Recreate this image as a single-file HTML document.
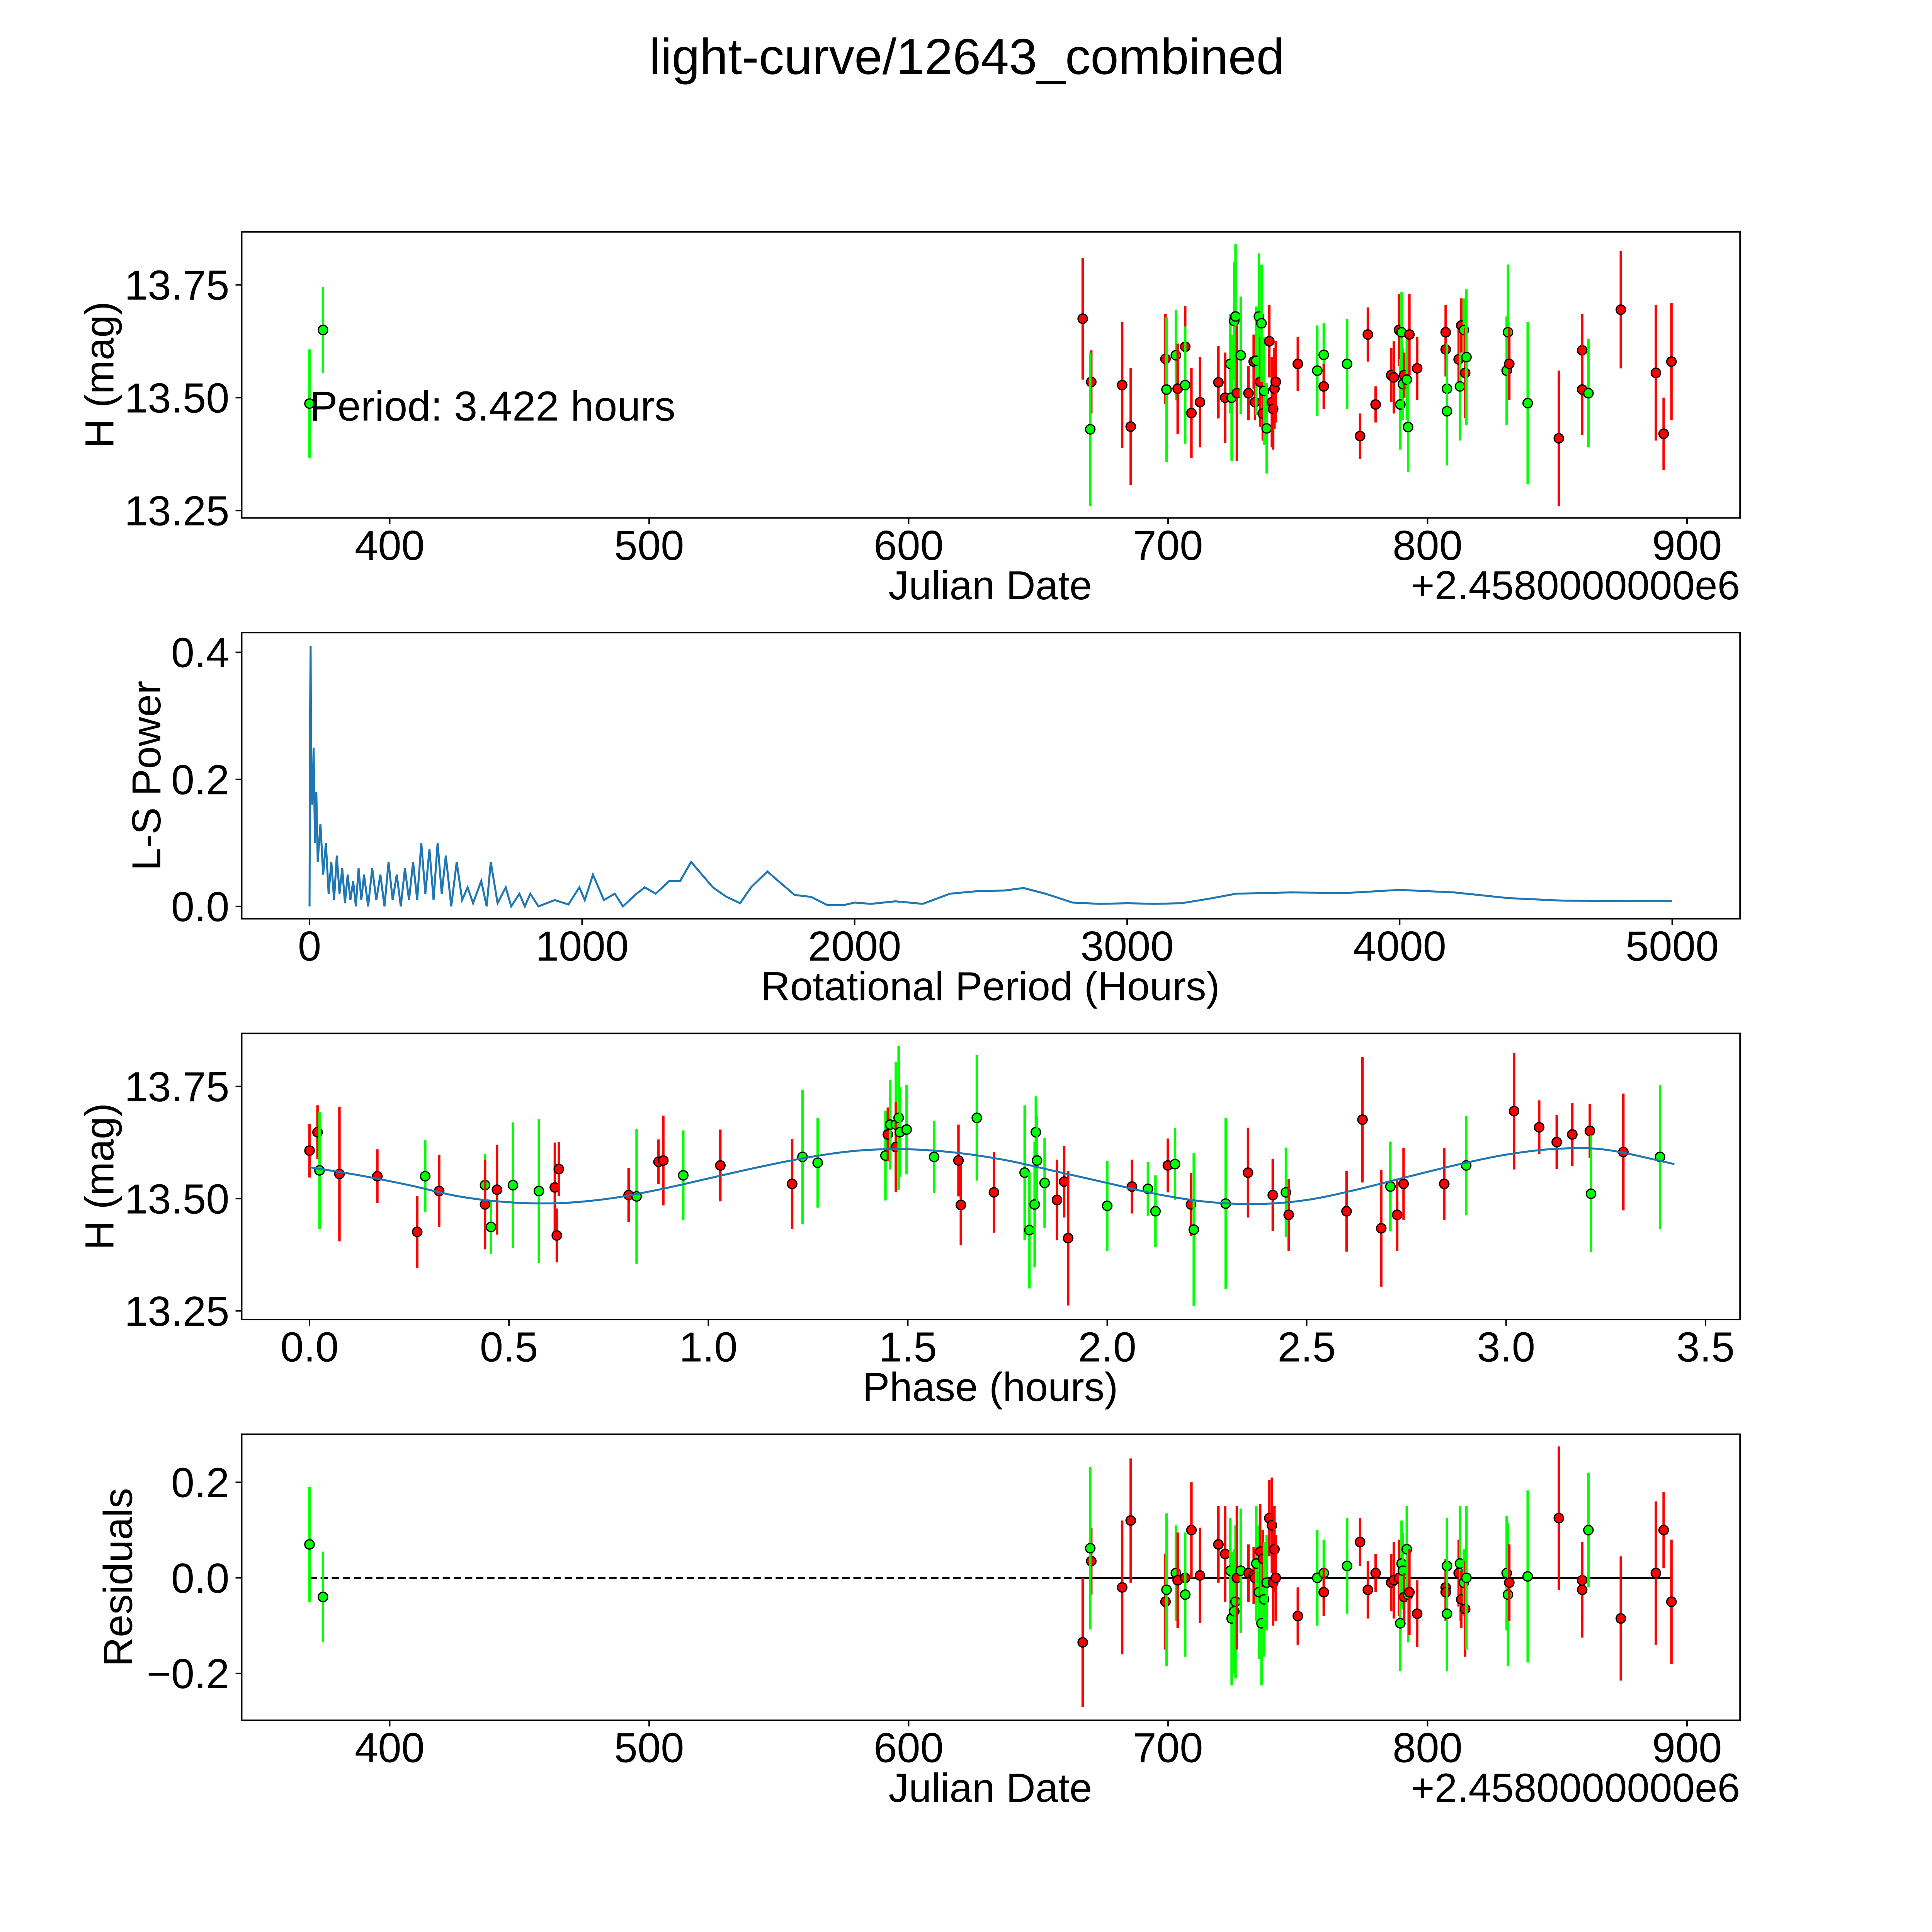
<!DOCTYPE html>
<html><head><meta charset="utf-8"><style>
html,body{margin:0;padding:0;background:#fff;overflow:hidden;}
svg{display:block;font-family:"Liberation Sans","DejaVu Sans",sans-serif;}
</style></head><body>
<svg id="fig" width="5400" height="5400" viewBox="0 0 1692 1692" xmlns="http://www.w3.org/2000/svg">
<rect x="0" y="0" width="1692" height="1692" fill="#fff"/>
<text x="784" y="60" font-size="41" text-anchor="middle">light-curve/12643_combined</text>
</svg>
<script>
// ---------- Panel 1 data: date offset, H mag, error, color ----------
const obsDates=[369.1,374.3,667.1,670.4,670.0,682.3,685.6,699.0,699.4,703.0,703.7,706.6,706.6,709.0,712.3,719.4,722.0,724,724.5,725.5,726,726.5,728,731,733,733.5,734,735,735.5,736,736.5,737,738,739,740,740.5,741,741.5,750,757.5,760,760,769,774,777,780,786,787,789,789.5,790,790.5,791,792,792.5,793,796,807,807,807.5,807.5,812,812.5,813,814,814.5,815,830.5,831,831.5,838.6,850.6,859.6,859.6,862,874.5,888,891,894];
const obsMags=[13.487,13.65,13.675,13.535,13.43,13.528,13.436,13.586,13.518,13.594,13.52,13.613,13.528,13.466,13.49,13.534,13.50,13.575,13.50,13.67,13.68,13.51,13.594,13.51,13.58,13.49,13.582,13.68,13.535,13.665,13.465,13.515,13.432,13.625,13.49,13.475,13.52,13.535,13.575,13.56,13.595,13.525,13.575,13.415,13.64,13.485,13.55,13.545,13.65,13.485,13.645,13.53,13.55,13.54,13.435,13.64,13.565,13.607,13.645,13.52,13.47,13.585,13.525,13.66,13.65,13.555,13.59,13.56,13.645,13.575,13.488,13.41,13.605,13.518,13.51,13.695,13.555,13.42,13.58];
const obsErrs=[0.12,0.095,0.135,0.07,0.17,0.14,0.13,0.10,0.16,0.10,0.10,0.09,0.13,0.10,0.10,0.08,0.10,0.11,0.14,0.13,0.16,0.15,0.13,0.06,0.06,0.04,0.12,0.14,0.10,0.13,0.06,0.12,0.10,0.08,0.10,0.09,0.09,0.09,0.06,0.10,0.07,0.05,0.10,0.05,0.06,0.04,0.06,0.08,0.08,0.10,0.09,0.08,0.05,0.09,0.10,0.09,0.07,0.06,0.06,0.10,0.12,0.07,0.12,0.06,0.07,0.10,0.15,0.12,0.15,0.08,0.18,0.15,0.08,0.10,0.12,0.13,0.15,0.08,0.13];
const obsColors=["g","g","r","r","g","r","r","r","g","g","r","r","g","r","r","r","r","g","g","g","g","r","g","r","r","r","g","g","r","g","r","g","g","r","r","r","r","r","r","g","g","r","g","r","r","r","r","r","r","g","g","g","r","g","g","r","r","r","r","g","g","r","g","r","g","r","g","g","g","r","g","r","r","r","g","r","r","r","r"];
const residuals=[0.07,-0.04,-0.135,0.035,0.062,-0.02,0.12,-0.05,-0.025,0.01,-0.005,0.0,-0.035,0.1,0.005,0.07,0.05,0.015,-0.085,-0.07,-0.05,0.0,0.015,0.01,0.005,0.0,0.03,-0.03,0.055,-0.095,0.04,-0.045,-0.01,0.125,0.11,-0.01,0.06,0.0,-0.08,0.0,0.01,-0.03,0.025,0.075,-0.025,0.01,-0.01,-0.005,0.0,-0.095,0.03,0.015,-0.04,0.06,-0.035,-0.03,-0.075,-0.02,-0.03,0.025,-0.075,0.01,0.03,-0.045,-0.01,-0.065,0.0,0.01,-0.035,-0.01,0.003,0.125,-0.005,-0.025,0.1,-0.085,0.01,0.1,-0.05];
const julianTicks=[400,500,600,700,800,900];
const hmagTicks=[13.25,13.50,13.75];
const residTicks=[-0.2,0.0,0.2];
// ---------- Periodogram ----------
const lsPeriods=[0,2,4,6,10,15,20,25,30,40,50,60,70,80,90,100,110,120,130,140,150,160,170,180,190,200,215,230,245,260,275,290,305,320,335,350,365,380,395,410,425,440,455,470,485,500,520,540,560,580,600,630,650,665,690,720,740,770,790,810,840,900,950,990,1010,1040,1080,1120,1150,1200,1230,1270,1320,1360,1400,1440,1480,1530,1580,1620,1680,1720,1780,1840,1900,1960,2000,2060,2150,2250,2350,2450,2550,2620,2700,2800,2900,3000,3100,3200,3300,3400,3600,3800,4000,4200,4400,4600,5000];
const lsPower=[0,0.3,0.41,0.2,0.16,0.25,0.1,0.18,0.07,0.13,0.05,0.1,0.02,0.07,0.01,0.08,0.02,0.06,0.005,0.05,0.01,0.04,0.0,0.06,0.01,0.05,0.0,0.06,0.01,0.05,0.0,0.07,0.01,0.05,0.0,0.06,0.01,0.07,0.01,0.1,0.02,0.09,0.01,0.1,0.02,0.08,0.0,0.07,0.01,0.03,0.005,0.04,0.0,0.07,0.005,0.03,0.0,0.02,0.0,0.02,0.0,0.01,0.003,0.03,0.01,0.05,0.01,0.02,0.0,0.02,0.03,0.02,0.04,0.04,0.07,0.05,0.03,0.015,0.005,0.03,0.055,0.04,0.018,0.015,0.002,0.002,0.006,0.004,0.008,0.004,0.02,0.024,0.025,0.029,0.02,0.006,0.004,0.005,0.004,0.005,0.012,0.02,0.022,0.021,0.026,0.022,0.013,0.009,0.008];
const periodTicks=[0,1000,2000,3000,4000,5000];
const powerTicks=[0.0,0.2,0.4];
// ---------- Phase-folded ----------
const phaseVals=[0.0,0.02,0.025,0.075,0.17,0.27,0.29,0.325,0.44,0.44,0.455,0.47,0.51,0.575,0.615,0.62,0.625,0.8,0.82,0.875,0.887,0.937,1.03,1.21,1.236,1.274,1.444,1.45,1.456,1.47,1.47,1.477,1.48,1.497,1.566,1.627,1.633,1.673,1.716,1.793,1.805,1.818,1.821,1.824,1.843,1.874,1.892,1.902,2.0,2.062,2.102,2.121,2.152,2.17,2.21,2.217,2.297,2.353,2.415,2.448,2.455,2.6,2.64,2.687,2.71,2.727,2.743,2.845,2.9,3.02,3.083,3.127,3.166,3.21,3.213,3.294,3.386];
const phaseMags=[13.607,13.648,13.563,13.555,13.55,13.426,13.55,13.517,13.53,13.487,13.437,13.52,13.53,13.517,13.525,13.418,13.566,13.508,13.505,13.582,13.585,13.552,13.574,13.533,13.593,13.58,13.596,13.643,13.665,13.665,13.615,13.68,13.648,13.654,13.593,13.585,13.486,13.68,13.514,13.558,13.43,13.487,13.648,13.585,13.535,13.497,13.538,13.412,13.484,13.527,13.522,13.472,13.574,13.577,13.487,13.431,13.489,13.558,13.508,13.514,13.464,13.472,13.676,13.434,13.527,13.464,13.533,13.533,13.574,13.695,13.659,13.626,13.643,13.651,13.511,13.604,13.593];
const phaseColors=["r","r","g","r","r","r","g","r","g","r","g","r","g","g","r","r","r","r","g","r","r","g","r","r","g","g","g","r","g","g","r","g","g","g","g","r","r","g","r","g","g","g","g","g","g","r","r","r","g","r","g","g","r","g","r","g","g","r","r","g","r","r","r","r","g","r","r","r","g","r","r","r","r","r","g","r","g"];
const phaseErrs=[0.06,0.06,0.13,0.15,0.06,0.08,0.08,0.08,0.07,0.1,0.06,0.1,0.14,0.16,0.1,0.06,0.06,0.06,0.15,0.05,0.1,0.1,0.08,0.1,0.15,0.1,0.1,0.06,0.1,0.14,0.1,0.16,0.1,0.1,0.08,0.08,0.09,0.14,0.09,0.15,0.13,0.14,0.08,0.1,0.1,0.09,0.08,0.15,0.1,0.06,0.06,0.08,0.06,0.08,0.07,0.17,0.19,0.1,0.08,0.1,0.08,0.09,0.14,0.13,0.1,0.08,0.08,0.08,0.11,0.13,0.06,0.06,0.07,0.06,0.13,0.13,0.16];
const modelPhase=[0,0.125,0.25,0.375,0.5,0.625,0.75,0.875,1.0,1.125,1.25,1.375,1.5,1.625,1.75,1.875,2.0,2.125,2.25,2.375,2.5,2.625,2.75,2.875,3.0,3.125,3.25,3.422];
const modelMag=[13.57,13.552,13.53,13.505,13.492,13.49,13.5,13.52,13.545,13.57,13.592,13.607,13.61,13.602,13.585,13.56,13.535,13.51,13.493,13.488,13.497,13.52,13.548,13.575,13.598,13.611,13.609,13.577];
const phaseTicks=[0.0,0.5,1.0,1.5,2.0,2.5,3.0,3.5];

const NS="http://www.w3.org/2000/svg";
const svg=document.getElementById('fig');
function mk(tag,attrs,parent){const e=document.createElementNS(NS,tag);for(const k in attrs)e.setAttribute(k,attrs[k]);(parent||svg).appendChild(e);return e;}
const COL={r:"#ff0000",g:"#00ff00"};
function lin(d0,d1,p0,p1){return v=>p0+(v-d0)*(p1-p0)/(d1-d0);}
const AX={l:196,r:1411};
const TF=34, LF=33;

function frame(top,bot,name){
  const g=mk('g',{});
  
  
  const r=mk('rect',{x:AX.l,y:top,width:AX.r-AX.l,height:bot-top,fill:'none',stroke:'#000','stroke-width':1.2},g);
  
  
  return g;
}
function xticks(g,ticks,sx,bot,fmt){
  ticks.forEach(t=>{const x=sx(t);
    const l=mk('line',{x1:x,x2:x,y1:bot,y2:bot+5,stroke:'#000','stroke-width':1.2},g);
    
    
    const tx=mk('text',{x:x,y:bot+34,'font-size':TF,'text-anchor':'middle'},g);
    tx.textContent=fmt(t);
    
    
  });
}
function yticks(g,ticks,sy,fmt){
  ticks.forEach(t=>{const y=sy(t);
    const l=mk('line',{x1:AX.l-5,x2:AX.l,y1:y,y2:y,stroke:'#000','stroke-width':1.2},g);
    
    
    const tx=mk('text',{x:AX.l-10,y:y+12,'font-size':TF,'text-anchor':'end'},g);
    tx.textContent=fmt(t);
    
    
  });
}
function label(g,txt,x,y,rot,name,anchor){
  const t=mk('text',{x:x,y:y,'font-size':LF,'text-anchor':anchor||'middle'},g);
  if(rot)t.setAttribute('transform','rotate(-90 '+x+' '+y+')');
  t.textContent=txt;
  
  
}
function point(g,x,y,ey0,ey1,c,name){
  const l=mk('line',{x1:x,x2:x,y1:ey0,y2:ey1,stroke:COL[c],'stroke-width':2},g);
  
  
  const p=mk('circle',{cx:x,cy:y,r:3.8,fill:COL[c],stroke:'#000','stroke-width':1},g);
  
  
}
const f2=v=>v.toFixed(2), f1=v=>v.toFixed(1), f0=v=>String(v);
const fr=v=>(v<0?'\u2212':'')+Math.abs(v).toFixed(1);

// Panel 1
(function(){
  const top=188,bot=420;
  const g=frame(top,bot,'light-curve-panel');
  const sx=lin(400,900,316,1368), sy=lin(13.25,13.75,414,231);
  xticks(g,julianTicks,sx,bot,f0); yticks(g,hmagTicks,sy,f2);
  obsDates.forEach((d,i)=>point(g,sx(d),sy(obsMags[i]),sy(obsMags[i]-obsErrs[i]),sy(obsMags[i]+obsErrs[i]),obsColors[i],'observation-point'));
  const pt=mk('text',{x:251,y:341,'font-size':34},g);
  pt.textContent='Period: 3.422 hours';
  
  
  label(g,'H (mag)',92,304,true,'y-axis-title');
  label(g,'Julian Date',803,486,false,'x-axis-title');
  label(g,'+2.4580000000e6',1411,486,false,'x-axis-offset','end');
})();
// Panel 2
(function(){
  const top=513,bot=745;
  const g=frame(top,bot,'periodogram-panel');
  const sx=lin(0,5000,251,1356), sy=lin(0,0.4,735,529);
  xticks(g,periodTicks,sx,bot,f0); yticks(g,powerTicks,sy,f1);
  const pts=lsPeriods.map((p,i)=>sx(p).toFixed(2)+','+sy(lsPower[i]).toFixed(2)).join(' ');
  const pl=mk('polyline',{points:pts,fill:'none',stroke:'#1f77b4','stroke-width':1.6},g);
  
  
  label(g,'L-S Power',130,629,true,'y-axis-title');
  label(g,'Rotational Period (Hours)',803,811,false,'x-axis-title');
})();
// Panel 3
(function(){
  const top=838,bot=1070;
  const g=frame(top,bot,'phase-folded-panel');
  const sx=lin(0,3.5,251,1383), sy=lin(13.25,13.75,1063,881);
  xticks(g,phaseTicks,sx,bot,f1); yticks(g,hmagTicks,sy,f2);
  phaseVals.forEach((p,i)=>point(g,sx(p),sy(phaseMags[i]),sy(phaseMags[i]-phaseErrs[i]),sy(phaseMags[i]+phaseErrs[i]),phaseColors[i],'phase-point'));
  let d='';
  for(let i=0;i<modelPhase.length;i++){
    const x=sx(modelPhase[i]),y=sy(modelMag[i]);
    if(i===0){d+='M'+x+','+y;continue;}
    const p0=i>1?[sx(modelPhase[i-2]),sy(modelMag[i-2])]:[sx(modelPhase[i-1]),sy(modelMag[i-1])];
    const p1=[sx(modelPhase[i-1]),sy(modelMag[i-1])];
    const p3=i<modelPhase.length-1?[sx(modelPhase[i+1]),sy(modelMag[i+1])]:[x,y];
    const c1=[p1[0]+(x-p0[0])/6,p1[1]+(y-p0[1])/6], c2=[x-(p3[0]-p1[0])/6,y-(p3[1]-p1[1])/6];
    d+=' C'+c1[0]+','+c1[1]+' '+c2[0]+','+c2[1]+' '+x+','+y;
  }
  const c=mk('path',{d:d,fill:'none',stroke:'#1f77b4','stroke-width':1.6},g);
  
  
  label(g,'H (mag)',92,954,true,'y-axis-title');
  label(g,'Phase (hours)',803,1136,false,'x-axis-title');
})();
// Panel 4
(function(){
  const top=1163,bot=1395;
  const g=frame(top,bot,'residuals-panel');
  const sx=lin(400,900,316,1368), sy=lin(-0.2,0.2,1357,1202);
  xticks(g,julianTicks,sx,bot,f0); yticks(g,residTicks,sy,fr);
  const z=mk('line',{x1:sx(obsDates[0]),x2:sx(obsDates[obsDates.length-1]),y1:sy(0),y2:sy(0),stroke:'#000','stroke-width':1.5,'stroke-dasharray':'6,3'},g);
  
  
  const z2=mk('line',{x1:sx(obsDates[2]),x2:sx(obsDates[obsDates.length-1]),y1:sy(0),y2:sy(0),stroke:'#000','stroke-width':1.5},g);
  
  
  obsDates.forEach((d,i)=>point(g,sx(d),sy(residuals[i]),sy(residuals[i]-obsErrs[i]),sy(residuals[i]+obsErrs[i]),obsColors[i],'residual-point'));
  label(g,'Residuals',107,1279,true,'y-axis-title');
  label(g,'Julian Date',803,1461,false,'x-axis-title');
  label(g,'+2.4580000000e6',1411,1461,false,'x-axis-offset','end');
})();
</script>
</body></html>
